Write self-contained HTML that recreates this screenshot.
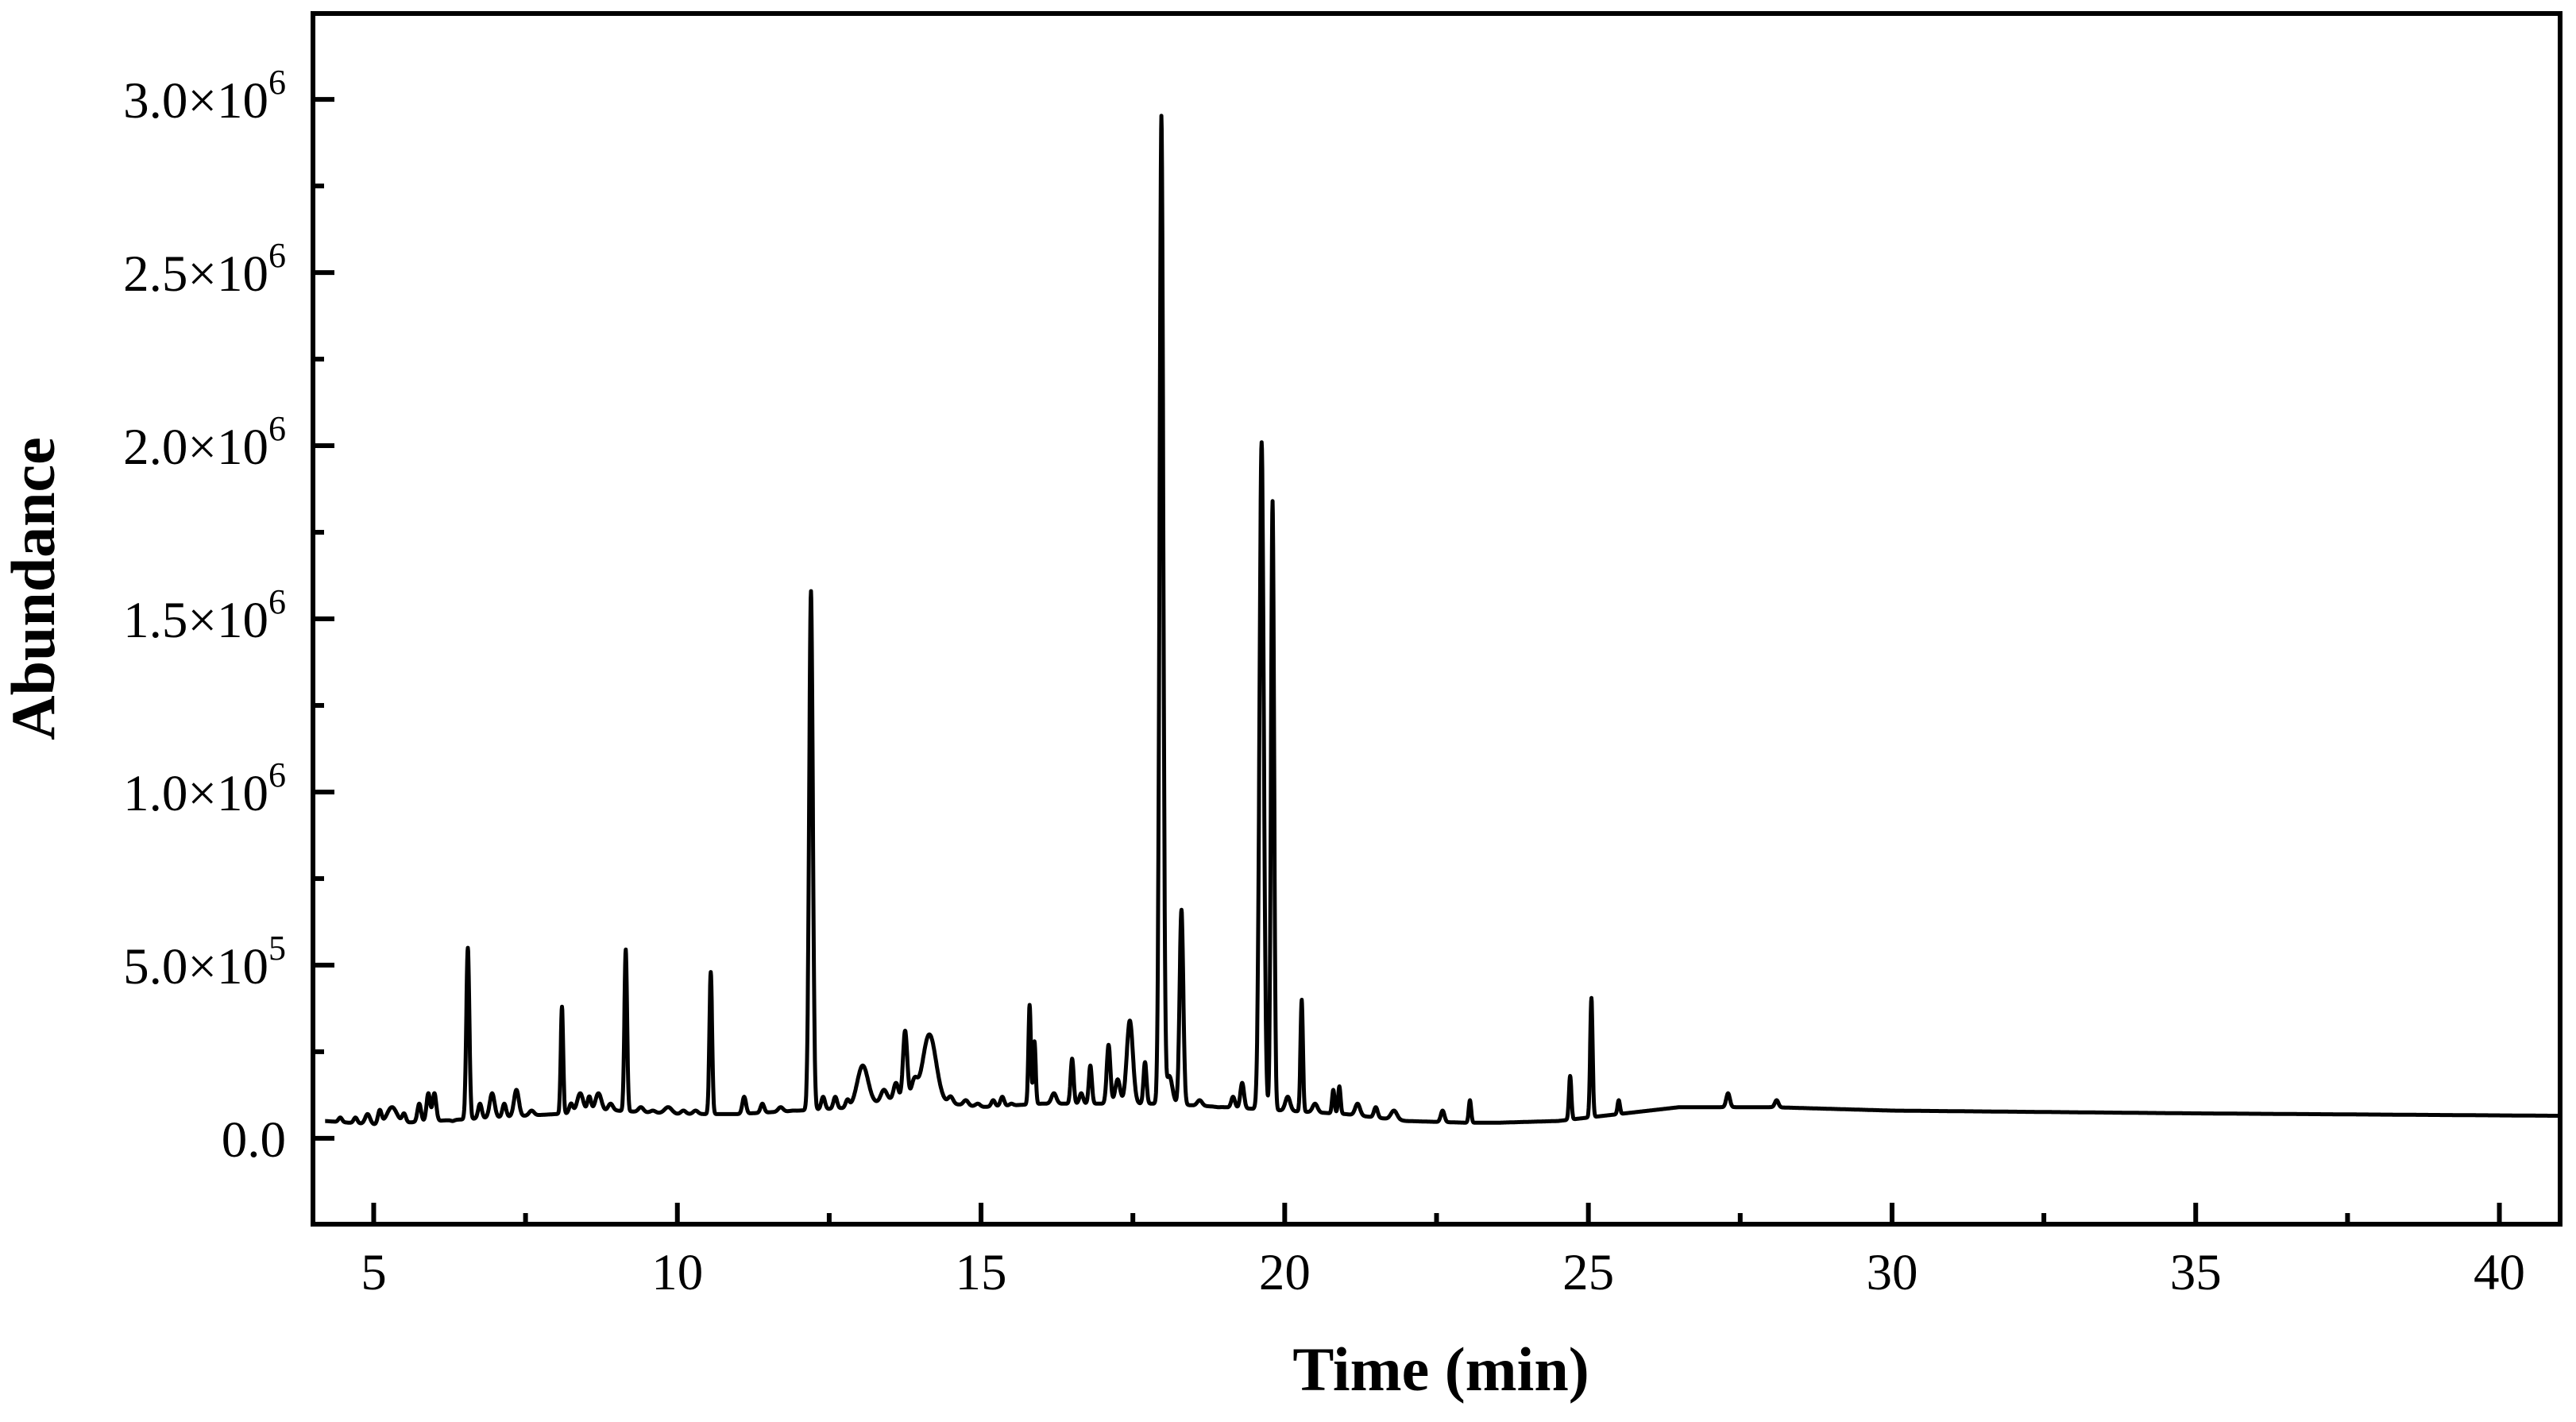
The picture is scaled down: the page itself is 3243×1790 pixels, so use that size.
<!DOCTYPE html>
<html><head><meta charset="utf-8"><style>
html,body{margin:0;padding:0;background:#fff}
svg{display:block}
text{font-family:"Liberation Serif",serif;fill:#000}
</style></head><body>
<svg id="chart" width="3243" height="1790" viewBox="0 0 3243 1790" xmlns="http://www.w3.org/2000/svg">
<g id="plot"></g>
<g id="axes"></g>
<text x="1814" y="1750" text-anchor="middle" font-size="78" font-weight="bold">Time (min)</text>
<text transform="translate(68,741) rotate(-90)" text-anchor="middle" font-size="78" font-weight="bold">Abundance</text>
</svg>
<script>
// data (values in units of 1e6 abundance, time in minutes)
const baseT = [4.2, 5, 6, 7, 8, 9, 10, 11, 12, 13, 13.5, 14.5, 15, 16, 17, 18, 19, 20, 21, 22, 23, 23.5, 24.5, 25.5, 26.5, 28, 30, 35, 41];
const baseV = [0.05, 0.04, 0.05, 0.06, 0.07, 0.08, 0.07, 0.07, 0.08, 0.09, 0.11, 0.10, 0.09, 0.10, 0.10, 0.10, 0.09, 0.08, 0.07, 0.05, 0.045, 0.045, 0.05, 0.07, 0.09, 0.09, 0.08, 0.072, 0.065];
const peakT = [4.45, 4.7, 4.9, 5.1, 5.3, 5.5, 5.75, 5.9, 6.0, 6.3, 6.55, 6.75, 6.95, 7.15, 7.35, 7.6, 8.1, 8.25, 8.4, 8.55, 8.7, 8.9, 9.15, 9.4, 9.6, 9.85, 10.1, 10.3, 10.55, 11.1, 11.4, 11.7, 11.9, 12.2, 12.4, 12.6, 12.8, 13.05, 13.4, 13.6, 13.75, 13.9, 14.15, 14.5, 14.75, 14.95, 15.2, 15.35, 15.5, 15.8, 15.88, 16.2, 16.5, 16.65, 16.8, 17.1, 17.25, 17.45, 17.7, 17.97, 18.1, 18.3, 18.6, 18.9, 19.15, 19.3, 19.62, 19.8, 20.05, 20.28, 20.5, 20.8, 20.9, 21.2, 21.5, 21.8, 22.6, 23.05, 24.7, 25.05, 25.5, 27.3, 28.1];
const peakV = [0.06, 0.06, 0.07, 0.08, 0.09, 0.07, 0.10, 0.13, 0.13, 0.05, 0.55, 0.10, 0.13, 0.10, 0.14, 0.08, 0.38, 0.10, 0.13, 0.12, 0.13, 0.10, 0.545, 0.09, 0.08, 0.09, 0.08, 0.08, 0.48, 0.12, 0.10, 0.09, 0.08, 1.58, 0.12, 0.12, 0.11, 0.21, 0.14, 0.16, 0.31, 0.16, 0.30, 0.12, 0.11, 0.10, 0.11, 0.12, 0.10, 0.385, 0.28, 0.13, 0.23, 0.13, 0.21, 0.27, 0.17, 0.34, 0.22, 2.95, 0.18, 0.66, 0.11, 0.09, 0.12, 0.16, 2.01, 1.84, 0.12, 0.40, 0.10, 0.14, 0.15, 0.10, 0.09, 0.08, 0.08, 0.11, 0.18, 0.405, 0.11, 0.13, 0.11];
const peakW = [0.03, 0.03, 0.04, 0.03, 0.08, 0.03, 0.03, 0.03, 0.03, 0.03, 0.025, 0.03, 0.04, 0.03, 0.04, 0.04, 0.02, 0.03, 0.05, 0.03, 0.05, 0.04, 0.022, 0.04, 0.04, 0.06, 0.04, 0.04, 0.022, 0.03, 0.03, 0.04, 0.04, 0.03, 0.03, 0.03, 0.03, 0.09, 0.05, 0.04, 0.035, 0.05, 0.11, 0.04, 0.04, 0.04, 0.03, 0.03, 0.03, 0.02, 0.02, 0.04, 0.025, 0.03, 0.025, 0.03, 0.04, 0.05, 0.025, 0.03, 0.05, 0.03, 0.04, 0.04, 0.03, 0.03, 0.035, 0.025, 0.04, 0.02, 0.04, 0.02, 0.02, 0.04, 0.03, 0.05, 0.03, 0.02, 0.02, 0.02, 0.02, 0.03, 0.03];
const xTicks = [5, 10, 15, 20, 25, 30, 35, 40];
const yTicks = [0, 0.5, 1.0, 1.5, 2.0, 2.5, 3.0];
const yTickLabels = ["0.0", "5.0×10|5", "1.0×10|6", "1.5×10|6", "2.0×10|6", "2.5×10|6", "3.0×10|6"];

const X0 = 394, X1 = 3223, Y0 = 17, Y1 = 1541;
const tMin = 4, tMax = 41, vMin = -0.248, vMax = 3.248;
const sx = t => X0 + (t - tMin) / (tMax - tMin) * (X1 - X0);
const sy = v => Y1 - (v - vMin) / (vMax - vMin) * (Y1 - Y0);
const NS = "http://www.w3.org/2000/svg";

function baseline(t) {
  if (t <= baseT[0]) return baseV[0];
  for (let i = 1; i < baseT.length; i++) {
    if (t <= baseT[i]) {
      const f = (t - baseT[i-1]) / (baseT[i] - baseT[i-1]);
      return baseV[i-1] + f * (baseV[i] - baseV[i-1]);
    }
  }
  return baseV[baseV.length - 1];
}
function signal(t) {
  let v = baseline(t);
  for (let i = 0; i < peakT.length; i++) {
    const h = peakV[i] - baseline(peakT[i]);
    const d = (t - peakT[i]) / peakW[i];
    if (Math.abs(d) < 6) v += h * Math.exp(-0.5 * d * d);
  }
  return v;
}
let d = "";
for (let t = 4.2; t <= 41.0001; t += 0.005) {
  d += (d ? "L" : "M") + sx(t).toFixed(1) + "," + sy(signal(t)).toFixed(1);
}
const plot = document.getElementById("plot");
const line = document.createElementNS(NS, "path");


line.setAttribute("d", d);
line.setAttribute("fill", "none");
line.setAttribute("stroke", "#000");
line.setAttribute("stroke-width", "5");
line.setAttribute("stroke-linejoin", "round");
plot.appendChild(line);

const axes = document.getElementById("axes");
const frame = document.createElementNS(NS, "rect");


frame.setAttribute("x", X0); frame.setAttribute("y", Y0);
frame.setAttribute("width", X1 - X0); frame.setAttribute("height", Y1 - Y0);
frame.setAttribute("fill", "none"); frame.setAttribute("stroke", "#000"); frame.setAttribute("stroke-width", "6");
axes.appendChild(frame);

function tick(x1, y1, x2, y2, name) {
  const l = document.createElementNS(NS, "line");
  
  
  l.setAttribute("x1", x1); l.setAttribute("y1", y1); l.setAttribute("x2", x2); l.setAttribute("y2", y2);
  l.setAttribute("stroke", "#000"); l.setAttribute("stroke-width", "6");
  axes.appendChild(l);
}
xTicks.forEach(t => {
  const x = sx(t);
  tick(x, Y1, x, Y1 - 27, 'x-major-tick');
  const m = sx(t + 2.5);
  if (t + 2.5 < tMax) tick(m, Y1, m, Y1 - 14, 'x-minor-tick');
  const tx = document.createElementNS(NS, "text");
  
  
  tx.setAttribute("x", x); tx.setAttribute("y", 1623);
  tx.setAttribute("text-anchor", "middle"); tx.setAttribute("font-size", "65");
  tx.textContent = String(t);
  axes.appendChild(tx);
});
yTicks.forEach((v, i) => {
  const y = sy(v);
  tick(X0, y, X0 + 27, y, 'y-major-tick');
  const m = sy(v + 0.25);
  if (v + 0.25 < vMax) tick(X0, m, X0 + 14, m, 'y-minor-tick');
  const tx = document.createElementNS(NS, "text");
  
  
  tx.setAttribute("x", 360); tx.setAttribute("y", y + 23);
  tx.setAttribute("text-anchor", "end"); tx.setAttribute("font-size", "65");
  const parts = yTickLabels[i].split("|");
  tx.appendChild(document.createTextNode(parts[0]));
  if (parts[1]) {
    const sp = document.createElementNS(NS, "tspan");
    sp.setAttribute("dy", "-30"); sp.setAttribute("font-size", "44");
    sp.textContent = parts[1];
    tx.appendChild(sp);
  }
  axes.appendChild(tx);
});
</script>
</body></html>
